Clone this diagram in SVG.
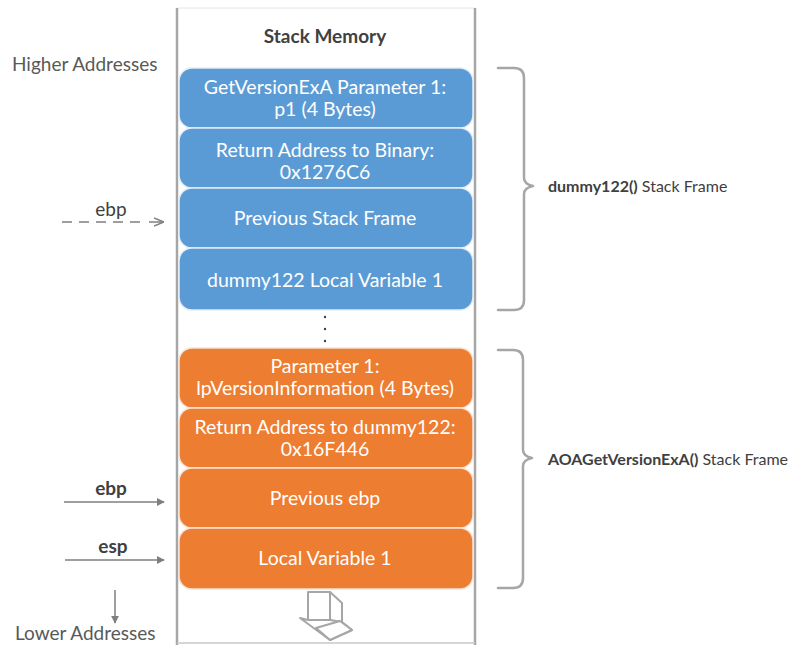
<svg xmlns="http://www.w3.org/2000/svg" width="790" height="645" viewBox="0 0 790 645">
  <style>
    .cell-blue { fill: #5B9BD5; stroke: #E4ECF4; stroke-width: 1.5; }
    .cell-orange { fill: #ED7D31; stroke: #F6E2D6; stroke-width: 1.5; }
    .cell-text { font-family: Lato, "Liberation Sans", sans-serif; font-size: 19.5px; fill: #FFFFFF; text-anchor: middle; }
    .side { font-family: Lato, "Liberation Sans", sans-serif; font-size: 19px; fill: #595959; }
    .reg { font-family: Lato, "Liberation Sans", sans-serif; font-size: 19px; fill: #404040; text-anchor: middle; }
    .brace { fill: none; stroke: #A6A6A6; stroke-width: 2.5; stroke-linecap: round; stroke-linejoin: round; }
    .pointer { fill: none; stroke: #7F7F7F; stroke-width: 1.5; }
    .frame-label { font-family: Lato, "Liberation Sans", sans-serif; font-size: 16px; fill: #404040; }
  </style>
  <defs>
    <marker id="head" viewBox="0 0 10 10" refX="9" refY="5" markerWidth="8" markerHeight="8" markerUnits="userSpaceOnUse" orient="auto">
      <path d="M0,0 L10,5 L0,10 Z" fill="#7F7F7F"/>
    </marker>
    <marker id="headSmall" viewBox="0 0 10 10" refX="9" refY="5" markerWidth="10" markerHeight="10" markerUnits="userSpaceOnUse" orient="auto">
      <path d="M0,1 L10,5 L0,9" fill="none" stroke="#7F7F7F" stroke-width="1.5"/>
    </marker>
  </defs>

  <rect width="790" height="645" fill="#FFFFFF"/>

  <!-- stack container -->
  <g id="stack">
    <line x1="177" y1="8" x2="475" y2="8" stroke="#E6E6E6" stroke-width="1"/>
    <line x1="177" y1="8" x2="177" y2="645" stroke="#A6A6A6" stroke-width="2.5"/>
    <line x1="475" y1="8" x2="475" y2="645" stroke="#A6A6A6" stroke-width="2.5"/>
    <line x1="177" y1="643" x2="475" y2="643" stroke="#C8C8C8" stroke-width="1.5"/>
    <text x="325" y="43" text-anchor="middle" font-family="Lato, 'Liberation Sans', sans-serif" font-size="19" font-weight="bold" fill="#404040">Stack Memory</text>
  </g>

  <!-- dummy122 frame cells -->
  <g id="cell-param-p1">
    <rect class="cell-blue" x="179" y="68" width="294" height="60" rx="13"/>
    <text class="cell-text" x="325" y="94">GetVersionExA Parameter 1:</text>
    <text class="cell-text" x="325" y="116">p1 (4 Bytes)</text>
  </g>
  <g id="cell-ret-binary">
    <rect class="cell-blue" x="179" y="128" width="294" height="60" rx="13"/>
    <text class="cell-text" x="325" y="157">Return Address to Binary:</text>
    <text class="cell-text" x="325" y="179">0x1276C6</text>
  </g>
  <g id="cell-prev-frame">
    <rect class="cell-blue" x="179" y="188" width="294" height="60" rx="13"/>
    <text class="cell-text" x="325" y="225">Previous Stack Frame</text>
  </g>
  <g id="cell-dummy-local">
    <rect class="cell-blue" x="179" y="248" width="294" height="62" rx="13"/>
    <text class="cell-text" x="325" y="287">dummy122 Local Variable 1</text>
  </g>

  <g id="ellipsis" fill="#404040">
    <circle cx="325" cy="317" r="1.2"/>
    <circle cx="325" cy="329" r="1.2"/>
    <circle cx="325" cy="341" r="1.2"/>
  </g>

  <!-- AOAGetVersionExA frame cells -->
  <g id="cell-param-lpvi">
    <rect class="cell-orange" x="179" y="348" width="294" height="60" rx="13"/>
    <text class="cell-text" x="325" y="373">Parameter 1:</text>
    <text class="cell-text" x="325" y="395">lpVersionInformation (4 Bytes)</text>
  </g>
  <g id="cell-ret-dummy">
    <rect class="cell-orange" x="179" y="408" width="294" height="60" rx="13"/>
    <text class="cell-text" x="325" y="434">Return Address to dummy122:</text>
    <text class="cell-text" x="325" y="456">0x16F446</text>
  </g>
  <g id="cell-prev-ebp">
    <rect class="cell-orange" x="179" y="468" width="294" height="60" rx="13"/>
    <text class="cell-text" x="325" y="505">Previous ebp</text>
  </g>
  <g id="cell-local">
    <rect class="cell-orange" x="179" y="528" width="294" height="61" rx="13"/>
    <text class="cell-text" x="325" y="565">Local Variable 1</text>
  </g>

  <!-- growth direction block arrow -->
  <g id="growth-arrow" fill="#FFFFFF" stroke="#A6A6A6" stroke-width="2" stroke-linejoin="round">
    <path d="M330,592 L342,603 L342,624 L330,620 Z"/>
    <path d="M308,592 L330,592 L330,620 L308,620 Z"/>
    <path d="M300,618 L330,640 L352,630 L342,622 L330,620 L308,620 Z"/>
    <path d="M316,628 L340,621 L352,630 L330,640 Z"/>
  </g>

  <!-- address direction labels -->
  <g id="address-labels">
    <text class="side" x="12" y="71">Higher Addresses</text>
    <text class="side" x="15" y="640">Lower Addresses</text>
  </g>

  <!-- register pointers and address direction arrow -->
  <g id="connectors">
    <line class="pointer" x1="62" y1="222" x2="146" y2="222" stroke-dasharray="10,7"/>
    <line class="pointer" x1="149" y1="222" x2="163" y2="222" marker-end="url(#headSmall)"/>
    <line class="pointer" x1="64" y1="502" x2="164" y2="502" marker-end="url(#head)"/>
    <line class="pointer" x1="65" y1="560" x2="164" y2="560" marker-end="url(#head)"/>
    <line class="pointer" x1="115" y1="590" x2="115" y2="623" stroke="#A6A6A6" marker-end="url(#head)"/>
  </g>
  <g id="register-labels">
    <text class="reg" x="111" y="216" fill="#595959">ebp</text>
    <text class="reg" x="111" y="495" font-weight="bold">ebp</text>
    <text class="reg" x="113" y="553" font-weight="bold">esp</text>
  </g>

  <!-- frame braces -->
  <g id="brace-dummy122">
    <path class="brace" d="M498,68 L514,68 Q524,68 524,78 L524,178 Q524,184 533,186 Q524,188 524,194 L524,300 Q524,310 514,310 L498,310"/>
    <text class="frame-label" x="548" y="192"><tspan font-weight="bold">dummy122()</tspan> Stack Frame</text>
  </g>
  <g id="brace-aoa">
    <path class="brace" d="M498,350 L513,350 Q523,350 523,360 L523,450 Q523,456 532,458 Q523,460 523,466 L523,578 Q523,588 513,588 L498,588"/>
    <text class="frame-label" x="548" y="465"><tspan font-weight="bold">AOAGetVersionExA()</tspan> Stack Frame</text>
  </g>
</svg>
